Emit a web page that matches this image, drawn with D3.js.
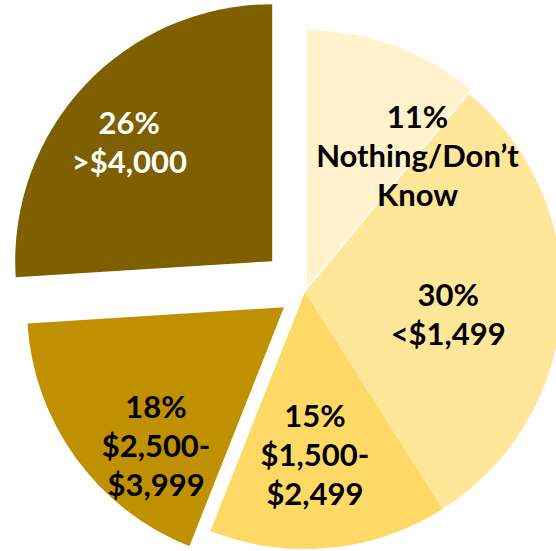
<!DOCTYPE html>
<html>
<head>
<meta charset="utf-8">
<script src="https://cdn.jsdelivr.net/npm/d3@7"></script>
<style>
  html, body { margin: 0; padding: 0; background: #ffffff; }
  svg { display: block; }
</style>
</head>
<body>
<svg id="chart" width="556" height="551"></svg>
<script>
// ---- data ----
const categories = ["Nothing/Don’t Know", "<$1,499", "$1,500-$2,499", "$2,500-$3,999", ">$4,000"];
const values = [11, 30, 15, 18, 26];
const labelLines = [
  ["11%", "Nothing/Don’t", "Know"],
  ["30%", "<$1,499"],
  ["15%", "$1,500-", "$2,499"],
  ["18%", "$2,500-", "$3,999"],
  ["26%", ">$4,000"]
];

// ---- styles / layout ----
const colors = ["#FFF2CC", "#FFE699", "#FFD966", "#BF9000", "#7F6000"];
const textColors = ["#000000", "#000000", "#000000", "#000000", "#ffffff"];
const explode = [5, 0, 0, 26, 45];
const labelRadius = [172, 145, 163, 189, 186];
const labelShiftDeg = [20.3, 5.4, 1.9, -11.4, -3.4];

const W = 556, H = 551;
const cx = 305, cy = 292, R = 257;
const lineH = 39, capH = 22;

const svg = d3.select("#chart");
const g = svg.append("g").attr("transform", `translate(${cx},${cy})`);

const pie = d3.pie().sort(null).value(d => d.value).startAngle(0).endAngle(2 * Math.PI);
const data = categories.map((c, i) => ({ category: c, value: values[i], i }));
const arcs = pie(data);
const arc = d3.arc().innerRadius(0).outerRadius(R);

function offsetOf(a) {
  const mid = (a.startAngle + a.endAngle) / 2;
  const d = explode[a.data.i];
  return [Math.sin(mid) * d, -Math.cos(mid) * d];
}

const sliceLayer = g.append("g");
const labelLayer = g.append("g");

sliceLayer.selectAll("path").data(arcs).join("path")
  .attr("transform", a => { const o = offsetOf(a); return `translate(${o[0]},${o[1]})`; })
  .attr("d", arc)
  .attr("fill", a => colors[a.data.i]);

labelLayer.selectAll("text").data(arcs).join("text")
  .attr("transform", a => { const o = offsetOf(a); return `translate(${o[0]},${o[1]})`; })
  .attr("text-anchor", "middle")
  .attr("font-family", "Lato, 'Noto Sans', sans-serif")
  .attr("font-weight", "bold")
  .attr("font-size", 31)
  .attr("fill", a => textColors[a.data.i])
  .each(function(a) {
    const i = a.data.i;
    const mid = (a.startAngle + a.endAngle) / 2 + labelShiftDeg[i] * Math.PI / 180;
    const lr = labelRadius[i];
    const pos = d3.arc().innerRadius(lr).outerRadius(lr).centroid({ startAngle: mid, endAngle: mid });
    const lines = labelLines[i];
    const firstBase = pos[1] - (lines.length - 1) * lineH / 2 + capH / 2;
    lines.forEach((ln, k) => {
      d3.select(this).append("tspan").attr("x", pos[0]).attr("y", firstBase + k * lineH).text(ln);
    });
  });
</script>
</body>
</html>
